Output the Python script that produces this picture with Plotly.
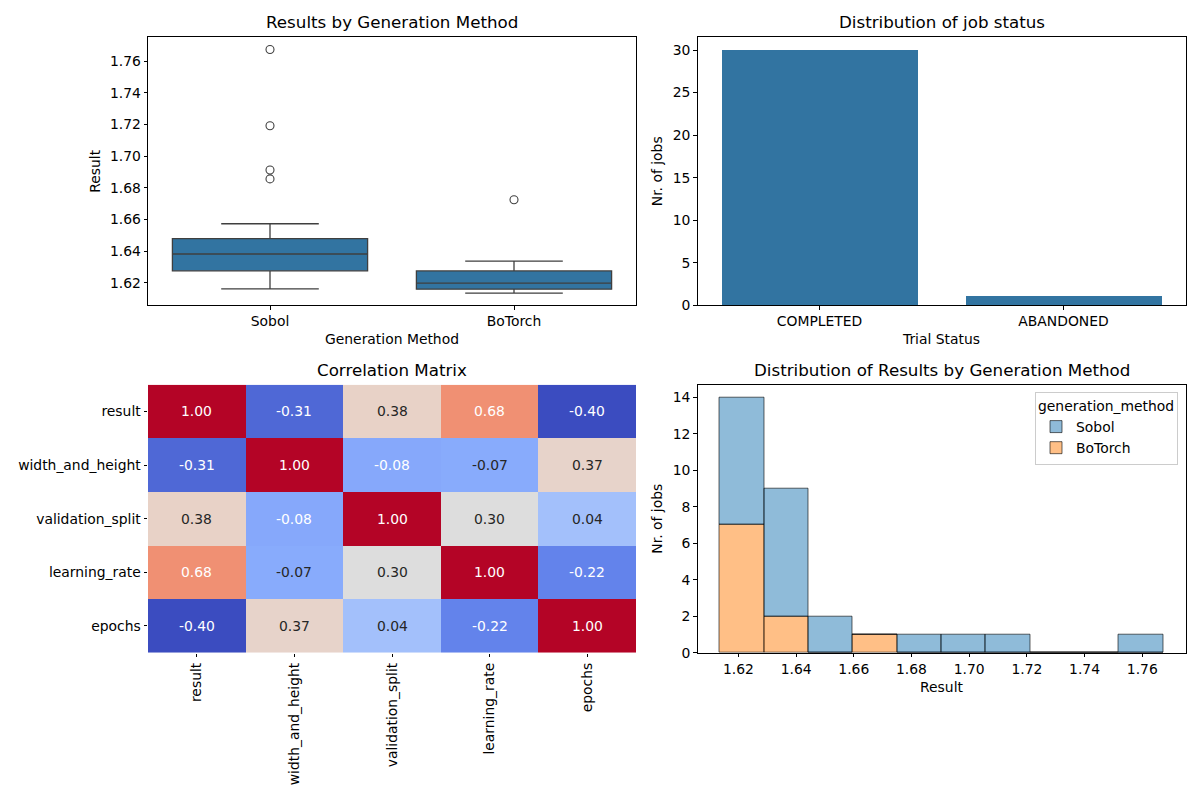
import numpy as np
import plotly.graph_objects as go

# ---------------- data ----------------
methods = ["Sobol", "BoTorch"]
sobol_results = [1.6162, 1.6195, 1.6221, 1.6248, 1.6270, 1.6278, 1.6284,
                 1.6315, 1.6350, 1.6376, 1.6388, 1.6405, 1.6420, 1.6430,
                 1.6448, 1.6573, 1.6856, 1.6912, 1.7192, 1.7673]
botorch_results = [1.6135, 1.6148, 1.6157, 1.6169, 1.6193, 1.6203, 1.6225,
                   1.6292, 1.6337, 1.6724]

status_labels = ["COMPLETED", "ABANDONED"]
status_counts = [30, 1]

corr_labels = ["result", "width_and_height", "validation_split", "learning_rate", "epochs"]
corr_values = [
    [1.00, -0.31, 0.38, 0.68, -0.40],
    [-0.31, 1.00, -0.08, -0.07, 0.37],
    [0.38, -0.08, 1.00, 0.30, 0.04],
    [0.68, -0.07, 0.30, 1.00, -0.22],
    [-0.40, 0.37, 0.04, -0.22, 1.00],
]

box_ticks = [1.62, 1.64, 1.66, 1.68, 1.70, 1.72, 1.74, 1.76]
bar_ticks = [0, 5, 10, 15, 20, 25, 30]
hist_yticks = [0, 2, 4, 6, 8, 10, 12, 14]

# ---------------- styling helpers ----------------
W, H = 1200, 800
FONT = "DejaVu Sans"
TICK = 13.9
TITLE = 16.7
BOXBLUE = "#3274a1"
EDGE = "#3f3f3f"


def xd(l, r):
    return [l / W, r / W]


def yd(t, b):
    return [1 - b / H, 1 - t / H]


COOLWARM = [
    (0.0, (59, 76, 192)), (0.125, (98, 130, 234)), (0.25, (141, 176, 254)),
    (0.375, (184, 208, 249)), (0.5, (221, 221, 221)), (0.625, (245, 196, 173)),
    (0.75, (244, 154, 123)), (0.875, (222, 96, 77)), (1.0, (180, 4, 38)),
]


def cw(t):
    for (a, ca), (b, cb) in zip(COOLWARM[:-1], COOLWARM[1:]):
        if a <= t <= b:
            f = (t - a) / (b - a)
            return tuple(ca[i] + f * (cb[i] - ca[i]) for i in range(3))
    return COOLWARM[-1][1]


def lum(rgb):
    out = []
    for c in rgb:
        c = c / 255
        out.append(c / 12.92 if c <= 0.03928 else ((c + 0.055) / 1.055) ** 2.4)
    return 0.2126 * out[0] + 0.7152 * out[1] + 0.0722 * out[2]


fig = go.Figure()

# ---------------- 1) box plot ----------------
for name, vals in zip(methods, [sobol_results, botorch_results]):
    v = np.array(vals)
    q1, med, q3 = np.percentile(v, [25, 50, 75])
    iqr = q3 - q1
    lo_f, hi_f = q1 - 1.5 * iqr, q3 + 1.5 * iqr
    inside = v[(v >= lo_f) & (v <= hi_f)]
    outl = v[(v < lo_f) | (v > hi_f)]
    fig.add_trace(go.Box(
        x=[name], q1=[q1], median=[med], q3=[q3],
        lowerfence=[inside.min()], upperfence=[inside.max()],
        width=0.8, whiskerwidth=0.5, fillcolor=BOXBLUE,
        line=dict(color=EDGE, width=1.3), boxpoints=False,
        xaxis="x", yaxis="y", showlegend=False))
    fig.add_trace(go.Scatter(
        x=[name] * len(outl), y=outl, mode="markers",
        marker=dict(symbol="circle-open", size=8, color=EDGE, line=dict(width=1.1)),
        xaxis="x", yaxis="y", showlegend=False))

# ---------------- 2) bar chart ----------------
fig.add_trace(go.Bar(x=status_labels, y=status_counts, width=0.8,
                     marker=dict(color=BOXBLUE, line=dict(width=0)),
                     xaxis="x2", yaxis="y2", showlegend=False))

# ---------------- 3) heatmap ----------------
zmin = min(min(r) for r in corr_values)
zmax = max(max(r) for r in corr_values)
cs = [[p, "rgb(%d,%d,%d)" % c] for p, c in COOLWARM]
fig.add_trace(go.Heatmap(z=corr_values, x=corr_labels, y=corr_labels,
                         colorscale=cs, zmin=zmin, zmax=zmax, showscale=False,
                         xaxis="x3", yaxis="y3", xgap=0, ygap=0))
annotations = []
for i, row in enumerate(corr_values):
    for j, val in enumerate(row):
        c = cw((val - zmin) / (zmax - zmin))
        col = "#262626" if lum(c) > 0.408 else "white"
        annotations.append(dict(x=corr_labels[j], y=corr_labels[i], xref="x3", yref="y3",
                                text="%.2f" % val, showarrow=False,
                                font=dict(family=FONT, size=TICK, color=col)))

# ---------------- 4) stacked histogram ----------------
all_vals = np.array(sobol_results + botorch_results)
edges = np.linspace(all_vals.min(), all_vals.max(), 11)
centers = (edges[:-1] + edges[1:]) / 2
bw = edges[1] - edges[0]
cnt_bo, _ = np.histogram(botorch_results, bins=edges)
cnt_so, _ = np.histogram(sobol_results, bins=edges)
fig.add_trace(go.Bar(x=centers, y=cnt_bo, width=bw, name="BoTorch",
                     marker=dict(color="rgba(255,127,14,0.5)",
                                 line=dict(color="rgba(0,0,0,0.6)", width=1)),
                     xaxis="x4", yaxis="y4"))
fig.add_trace(go.Bar(x=centers, y=cnt_so, width=bw, base=cnt_bo, name="Sobol",
                     marker=dict(color="rgba(31,119,180,0.5)",
                                 line=dict(color="rgba(0,0,0,0.6)", width=1)),
                     xaxis="x4", yaxis="y4"))

# ---------------- titles ----------------
titles = [
    ("Results by Generation Method", (148 + 636) / 2, 37.3),
    ("Distribution of job status", (697.5 + 1185.5) / 2, 37.3),
    ("Correlation Matrix", (148 + 636) / 2, 384.7),
    ("Distribution of Results by Generation Method", (697.5 + 1185.5) / 2, 384.7),
]
for t, cx, top in titles:
    annotations.append(dict(text=t, x=cx / W, y=1 - top / H, xref="paper", yref="paper",
                            xanchor="center", yanchor="bottom", yshift=3, showarrow=False,
                            font=dict(family=FONT, size=TITLE, color="black")))

axis_common = dict(showline=True, mirror=True, linecolor="black", linewidth=0.8,
                   ticks="outside", ticklen=3.5, tickwidth=0.8, tickcolor="black",
                   showgrid=False, zeroline=False, automargin=False,
                   tickfont=dict(family=FONT, size=TICK, color="black"))

heat_common = dict(showline=False, ticks="outside", ticklen=3.5, tickwidth=0.8,
                   tickcolor="black", showgrid=False, zeroline=False, automargin=False,
                   tickfont=dict(family=FONT, size=TICK, color="black"))


def ttl(text, standoff):
    return dict(text=text, standoff=standoff, font=dict(family=FONT, size=TICK, color="black"))


rng = all_vals.max() - all_vals.min()
dlo, dhi = all_vals.min() - 0.05 * rng, all_vals.max() + 0.05 * rng

fig.update_layout(
    width=W, height=H, margin=dict(l=0, r=0, t=0, b=0, autoexpand=False),
    paper_bgcolor="white", plot_bgcolor="white",
    font=dict(family=FONT, size=TICK, color="black"),
    barmode="overlay", bargap=0,
    annotations=annotations,
    xaxis=dict(domain=xd(148, 636), anchor="y", range=[-0.5, 1.5],
               title=ttl("Generation Method", 5), **axis_common),
    yaxis=dict(domain=yd(37.3, 305.3), anchor="x", range=[dlo, dhi],
               tickvals=box_ticks, tickformat=".2f",
               title=ttl("Result", 6), **axis_common),
    xaxis2=dict(domain=xd(697.5, 1185.5), anchor="y2", range=[-0.5, 1.5],
                title=ttl("Trial Status", 5), **axis_common),
    yaxis2=dict(domain=yd(37.3, 305.3), anchor="x2", range=[0, 31.5],
                tickvals=bar_ticks, title=ttl("Nr. of jobs", 6), **axis_common),
    xaxis3=dict(domain=xd(148, 636), anchor="y3", range=[-0.5, 4.5],
                tickangle=-90, **heat_common),
    yaxis3=dict(domain=yd(384.7, 652.7), anchor="x3", autorange="reversed",
                **heat_common),
    xaxis4=dict(domain=xd(697.5, 1185.5), anchor="y4", range=[dlo, dhi],
                tickvals=box_ticks, tickformat=".2f",
                title=ttl("Result", 6), **axis_common),
    yaxis4=dict(domain=yd(384.7, 652.7), anchor="x4", range=[0, 14.7],
                tickvals=hist_yticks, title=ttl("Nr. of jobs", 6), **axis_common),
    legend=dict(x=1178 / W, y=1 - 392 / H, xanchor="right", yanchor="top",
                traceorder="reversed", bgcolor="white", bordercolor="#cccccc", borderwidth=1,
                title=dict(text="generation_method", font=dict(family=FONT, size=TICK)),
                font=dict(family=FONT, size=TICK)),
)

fig.write_html("out.html")
